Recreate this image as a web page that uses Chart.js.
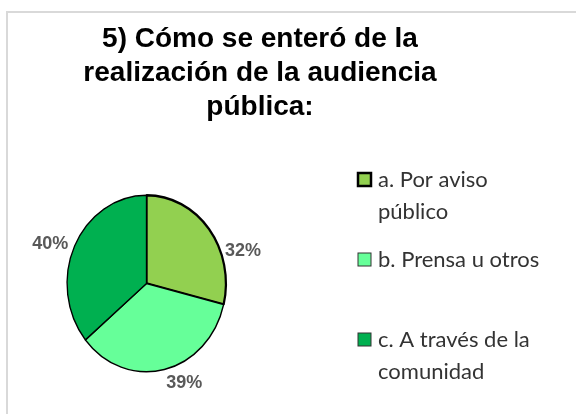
<!DOCTYPE html>
<html>
<head>
<meta charset="utf-8">
<script src="https://cdn.jsdelivr.net/npm/chart.js@4"></script>
<style>
  html, body { margin: 0; padding: 0; background: #fff; }
  #wrap { position: relative; width: 576px; height: 414px; }
</style>
</head>
<body>
<div id="wrap"><canvas id="pie-chart" width="576" height="414"></canvas></div>
<script>
var titleLines = ['5) Cómo se enteró de la', 'realización de la audiencia', 'pública:'];
var categories = ['a. Por aviso público', 'b. Prensa u otros', 'c. A través de la comunidad'];
var percents = [32, 39, 40];
var sliceColors = ['#92D050', '#66FF99', '#00B050'];

// label nudges (px) away from the plain mid-angle spot, Excel "best fit" style
var labelShift = [[24, 31], [17, 0], [-13, 4]];
var legendRows = [180, 260, 340];

function wrapText(ctx, text, maxW) {
  var words = text.split(' '), lines = [], cur = '';
  words.forEach(function(w) {
    var test = cur ? cur + ' ' + w : w;
    if (ctx.measureText(test).width > maxW && cur) {
      lines.push(cur);
      cur = w;
    } else {
      cur = test;
    }
  });
  if (cur) lines.push(cur);
  return lines;
}

var squash = 0.9;

var decor = {
  id: 'decor',
  beforeDraw: function(chart) {
    var ctx = chart.ctx;
    ctx.save();
    ctx.fillStyle = '#fff';
    ctx.fillRect(0, 0, chart.width, chart.height);
    ctx.strokeStyle = '#d9d9d9';
    ctx.lineWidth = 2;
    ctx.beginPath();
    ctx.moveTo(chart.width, 12);
    ctx.lineTo(7, 12);
    ctx.lineTo(7, chart.height);
    ctx.stroke();
    ctx.restore();
  },
  beforeDatasetsDraw: function(chart) {
    var arc = chart.getDatasetMeta(0).data[0];
    var ctx = chart.ctx;
    ctx.save();
    ctx.translate(arc.x, arc.y);
    ctx.scale(squash, 1);
    ctx.translate(-arc.x, -arc.y);
  },
  afterDatasetsDraw: function(chart) {
    var ctx = chart.ctx;
    ctx.restore();

    // percentage labels
    ctx.save();
    ctx.font = 'bold 18px "Liberation Sans"';
    ctx.fillStyle = '#595959';
    ctx.textAlign = 'center';
    ctx.textBaseline = 'middle';
    chart.getDatasetMeta(0).data.forEach(function(el, i) {
      var p = el.getProps(['x', 'y', 'startAngle', 'endAngle', 'outerRadius'], true);
      var mid = (p.startAngle + p.endAngle) / 2;
      var r = p.outerRadius + 14;
      var x = p.x + Math.cos(mid) * r * squash + labelShift[i][0];
      var y = p.y + Math.sin(mid) * r + labelShift[i][1];
      ctx.fillText(chart.data.datasets[0].data[i] + '%', x, y);
    });
    ctx.restore();
  },
  afterDraw: function(chart) {
    var ctx = chart.ctx;
    ctx.save();
    // title
    ctx.font = 'bold 28px "Liberation Sans"';
    ctx.fillStyle = '#000';
    ctx.textAlign = 'center';
    ctx.textBaseline = 'middle';
    titleLines.forEach(function(t, i) {
      ctx.fillText(t, 260, 39 + i * 34);
    });

    // legend
    ctx.font = '22px Lato';
    ctx.textAlign = 'left';
    var ds = chart.data.datasets[0];
    chart.data.labels.forEach(function(lbl, i) {
      var y = legendRows[i];
      ctx.fillStyle = ds.backgroundColor[i];
      ctx.fillRect(358, y - 7, 13, 13);
      ctx.strokeStyle = i === 0 ? '#000' : '#333';
      ctx.lineWidth = i === 0 ? 2.5 : 1;
      ctx.strokeRect(358, y - 7, 13, 13);
      ctx.fillStyle = '#333';
      wrapText(ctx, lbl, 180).forEach(function(line, j) {
        ctx.fillText(line, 378, y + j * 32);
      });
    });
    ctx.restore();
  }
};

var ctx = document.getElementById('pie-chart');
window.myPie = new Chart(ctx, {
  type: 'pie',
  data: {
    labels: categories,
    datasets: [{
      data: percents,
      backgroundColor: sliceColors,
      borderColor: '#000',
      borderWidth: [2.5, 1.5, 1.5]
    }]
  },
  options: {
    responsive: false,
    animation: false,
    layout: {
      padding: { left: 57, top: 194, right: 340, bottom: 41 }
    },
    plugins: {
      legend: { display: false },
      title: { display: false },
      tooltip: { enabled: false }
    }
  },
  plugins: [decor]
});
</script>
</body>
</html>
